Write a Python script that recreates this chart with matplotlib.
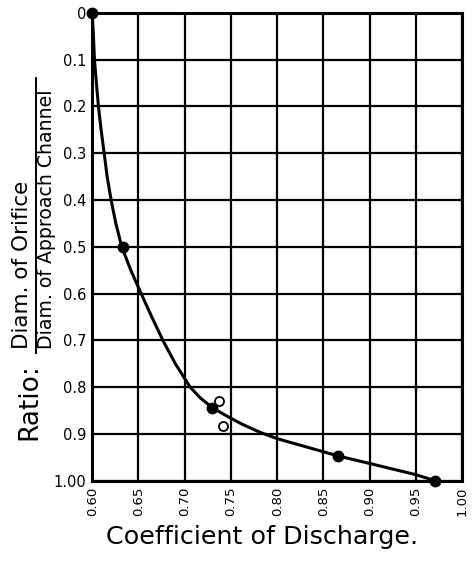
import matplotlib.pyplot as plt
from matplotlib.lines import Line2D

# measured points (filled) and extra observations (open)
coef_pts = [0.60, 0.633, 0.73, 0.866, 0.971]
ratio_pts = [0.0, 0.5, 0.845, 0.947, 1.0]
coef_open = [0.737, 0.741]
ratio_open = [0.83, 0.882]

# the drawn curve
coef_curve = [0.600, 0.6014, 0.6025, 0.6046, 0.6068, 0.6097, 0.613, 0.6162,
              0.6205, 0.6256, 0.632, 0.6418, 0.653, 0.6645, 0.6765, 0.690,
              0.706, 0.717, 0.730, 0.745, 0.762, 0.781, 0.800, 0.825, 0.850,
              0.866, 0.900, 0.950, 0.971]
ratio_curve = [0.00, 0.05, 0.10, 0.15, 0.20, 0.25, 0.30, 0.35,
               0.40, 0.45, 0.50, 0.55, 0.60, 0.65, 0.70, 0.75,
               0.80, 0.823, 0.844, 0.861, 0.879, 0.896, 0.910, 0.924, 0.938,
               0.947, 0.963, 0.987, 1.00]

x_ticks = [0.60, 0.65, 0.70, 0.75, 0.80, 0.85, 0.90, 0.95, 1.00]
x_labels = ['0.60', '0.65', '0.70', '0.75', '0.80', '0.85', '0.90', '0.95', '1.00']
y_ticks = [0.0, 0.1, 0.2, 0.3, 0.4, 0.5, 0.6, 0.7, 0.8, 0.9, 1.0]
y_labels = ['0', '0.1', '0.2', '0.3', '0.4', '0.5', '0.6', '0.7', '0.8', '0.9', '1.00']

plt.rcParams['font.family'] = ['DejaVu Sans']

fig = plt.figure(figsize=(4.75, 5.61), dpi=100)
ax = fig.add_axes([0.194, 0.143, 0.779, 0.834])

ax.set_xlim(0.60, 1.00)
ax.set_ylim(1.0, 0.0)
ax.set_xticks(x_ticks)
ax.set_xticklabels(x_labels, rotation=90, fontsize=9.5)
ax.set_yticks(y_ticks)
ax.set_yticklabels(y_labels, fontsize=10.5)
ax.tick_params(length=0, pad=4)
ax.grid(True, color='black', linewidth=1.6)
for s in ax.spines.values():
    s.set_linewidth(2.2)

ax.plot(coef_curve, ratio_curve, color='black', linewidth=2.2, zorder=3,
        solid_joinstyle='round', solid_capstyle='round', clip_on=False)
ax.plot(coef_pts, ratio_pts, 'o', color='black', markersize=7.5, zorder=4,
        clip_on=False)
ax.plot(coef_open, ratio_open, 'o', markerfacecolor='white',
        markeredgecolor='black', markersize=6.5, markeredgewidth=1.3,
        zorder=4)

fig.text(0.552, 0.043, 'Coefficient of Discharge.', fontsize=18.3,
         ha='center', va='center')

# y label: "Ratio:" with a fraction
fig.text(0.062, 0.285, 'Ratio:', rotation=90, fontsize=19,
         ha='center', va='center')
fig.text(0.046, 0.378, 'Diam. of Orifice', rotation=90, fontsize=15.5,
         ha='center', va='bottom')
fig.text(0.098, 0.378, 'Diam. of Approach Channel', rotation=90,
         fontsize=13.6, ha='center', va='bottom')
fig.add_artist(Line2D([0.076, 0.076], [0.371, 0.861], color='black',
                      linewidth=1.4, transform=fig.transFigure))

fig.savefig('out.png', dpi=100)
